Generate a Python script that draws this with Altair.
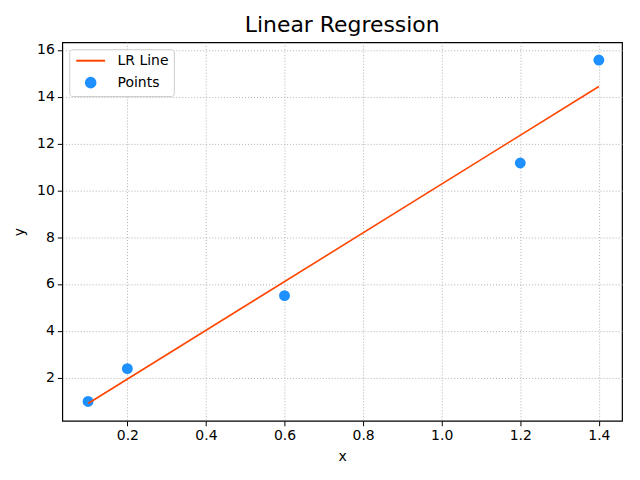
import altair as alt
import pandas as pd

# Scatter points
px = [0.1, 0.2, 0.6, 1.2, 1.4]
py = [0.98, 2.38, 5.5, 11.17, 15.57]

# Regression line endpoints
lx = [0.1, 1.4]
ly = [0.89, 14.44]

x_ticks = [0.2, 0.4, 0.6, 0.8, 1.0, 1.2, 1.4]
y_ticks = [2, 4, 6, 8, 10, 12, 14, 16]

pts = pd.DataFrame({"x": px, "y": py, "series": ["Points"] * len(px)})
line = pd.DataFrame({"x": lx, "y": ly, "series": ["LR Line"] * len(lx)})

domain = ["LR Line", "Points"]
colors = ["#FF4500", "#1E90FF"]

xs = alt.Scale(domain=[0.0344, 1.459], nice=False, zero=False)
ys = alt.Scale(domain=[0.153, 16.33], nice=False, zero=False)

xenc = alt.X("x:Q", scale=xs, axis=alt.Axis(values=x_ticks, format=".1f", title="x"))
yenc = alt.Y("y:Q", scale=ys, axis=alt.Axis(values=y_ticks, format="d", title="y"))

leg = alt.Legend(
    title=None, orient="none", legendX=7, legendY=7,
    strokeColor="#cccccc", fillColor="white", cornerRadius=3,
    padding=4.5, symbolSize=93, symbolStrokeWidth=2, symbolOffset=10,
    labelFontSize=14, labelFont="DejaVu Sans", labelColor="black",
    labelOffset=20, rowPadding=6,
)
shape_scale = alt.Scale(domain=domain, range=["M-3,0H3", "circle"])
col_scale = alt.Scale(domain=domain, range=colors)

point_layer = alt.Chart(pts).mark_point(filled=True, size=80, opacity=1).encode(
    x=xenc, y=yenc,
    fill=alt.Fill("series:N", scale=col_scale, legend=leg),
    stroke=alt.Stroke("series:N", scale=col_scale, legend=leg),
    shape=alt.Shape("series:N", scale=shape_scale, legend=leg),
)

line_layer = alt.Chart(line).mark_line(strokeWidth=1.6).encode(
    x=xenc, y=yenc,
    stroke=alt.Stroke("series:N", scale=col_scale, legend=leg),
)

chart = alt.layer(point_layer, line_layer).properties(
    width=562, height=380,
    title=alt.TitleParams("Linear Regression", fontSize=22, font="DejaVu Sans",
                          fontWeight="normal", color="black", anchor="middle",
                          offset=5),
    autosize=alt.AutoSizeParams(type="none"),
    padding={"left": 54.5, "top": 33.5, "right": 10, "bottom": 50},
).configure_view(
    stroke="black", strokeWidth=1.2
).configure_axis(
    labelFont="DejaVu Sans", labelFontSize=14, labelColor="black",
    titleFont="DejaVu Sans", titleFontSize=14, titleFontWeight="normal", titleColor="black",
    domain=False, tickColor="black", tickSize=5, tickWidth=1,
    grid=True, gridColor="#b0b0b0", gridDash=[1, 2], gridWidth=1, labelPadding=3,
).configure_axisX(titlePadding=7).configure_axisY(titlePadding=10)

chart.save("out.html", embed_options={"renderer": "svg", "actions": False})
